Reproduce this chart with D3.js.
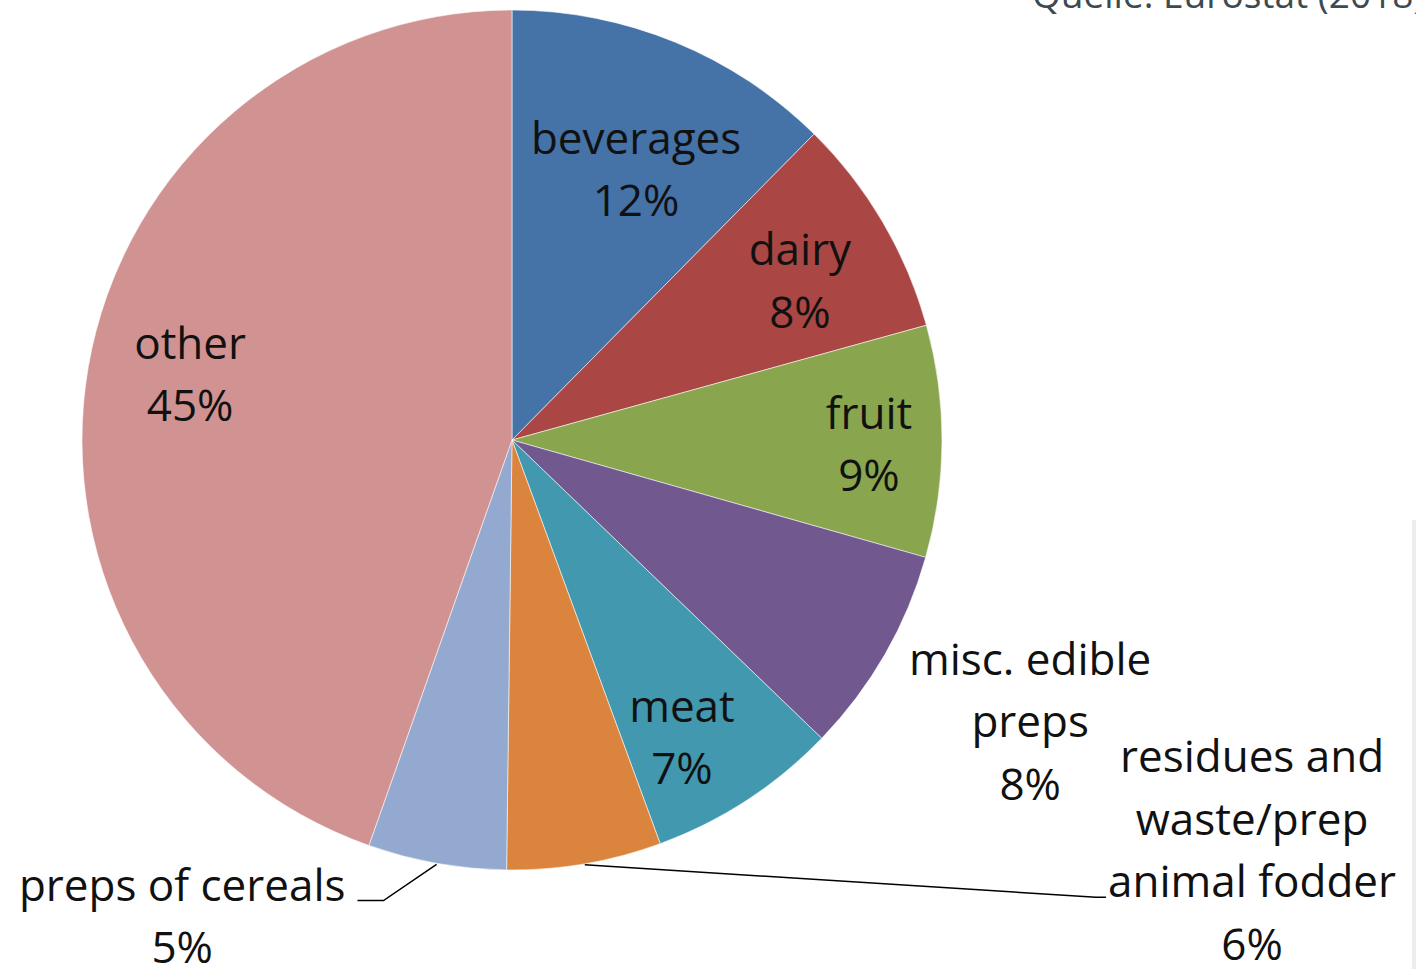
<!DOCTYPE html>
<html>
<head>
<meta charset="utf-8">
<script src="https://cdn.jsdelivr.net/npm/d3@7/dist/d3.min.js"></script>
<style>
  html, body { margin: 0; padding: 0; background: #ffffff; overflow: hidden; }
  svg { display: block; }
</style>
</head>
<body>
<svg id="chart" width="1416" height="969"></svg>
<script>
// ---- data ----
const categories = ["beverages", "dairy", "fruit", "misc. edible preps", "meat",
                    "residues and waste/prep animal fodder", "preps of cereals", "other"];
const labelLines = [
  ["beverages"], ["dairy"], ["fruit"], ["misc. edible", "preps"], ["meat"],
  ["residues and", "waste/prep", "animal fodder"], ["preps of cereals"], ["other"]
];
const shares = [12.4, 8.3, 8.7, 7.8, 7.2, 5.8, 5.2, 44.6];   // percent of total
const colors = ["#4572A7", "#AA4643", "#89A54E", "#71588F", "#4198AF",
                "#DB843D", "#93A9CF", "#D19392"];
const sourceText = "Quelle: Eurostat (2018)";

// ---- layout ----
const W = 1416, H = 969;
const cx = 512, cy = 440, R = 430;
const fontSize = 44, lineH = 62.5;
const fontFamily = "'Open Sans', 'Noto Sans', sans-serif";
// outside-placed labels: anchor relative to centre (in units of R) and leader settings
const outside = {
  3: { ax: 1.205, ay: 0.656, leader: null },
  5: { ax: 1.721, ay: 0.956, leader: { line: 2, side: "left", gap: 2, run: 10 } },
  6: { ax: -0.767, ay: 1.109, leader: { line: 0, side: "right", gap: 12, run: 26 } }
};
// small best-fit nudges for inside labels (px)
const nudge = { 0: [9, 10], 1: [3, 9], 2: [-3, 4], 4: [-10, 22], 7: [12, -8] };

const svg = d3.select("#chart");
const g = svg.append("g").attr("transform", `translate(${cx},${cy})`);

const pie = d3.pie().sort(null).value(d => d.v);
const data = pie(shares.map((v, i) => ({ v, i })));
const arc = d3.arc().innerRadius(0).outerRadius(R);

g.selectAll("path.slice")
  .data(data)
  .join("path")
  .attr("class", "slice")
  .attr("d", arc)
  .attr("fill", d => colors[d.data.i])
  .attr("stroke", "#ffffff")
  .attr("stroke-opacity", 0.55)
  .attr("stroke-width", 1);

function pctText(v) { return Math.round(v) + "%"; }

const labels = g.append("g").attr("font-family", fontFamily)
  .attr("font-size", fontSize).attr("fill", "#111111").attr("text-anchor", "middle");

data.forEach(d => {
  const i = d.data.i;
  const lines = labelLines[i].concat([pctText(d.data.v)]);
  const mid = (d.startAngle + d.endAngle) / 2;
  const dir = [Math.sin(mid), -Math.cos(mid)];
  const t = labels.append("text");
  const n = lines.length;
  lines.forEach((s, k) => {
    t.append("tspan").attr("x", 0)
      .attr("y", (k - (n - 1) / 2) * lineH + 15)
      .text(s);
  });
  const bb = t.node().getBBox();
  let px, py;
  if (outside[i]) {
    px = outside[i].ax * R; py = outside[i].ay * R;
  } else {
    // inside-end: push along mid-angle as far as the box fits inside the circle
    const pad = 22;
    const hw = bb.width / 2, top = bb.y, bot = bb.y + bb.height;
    let lo = 0, hi = R;
    for (let it = 0; it < 40; it++) {
      const m = (lo + hi) / 2;
      const ox = dir[0] * m, oy = dir[1] * m;
      const corners = [[ox - hw, oy + top], [ox + hw, oy + top], [ox - hw, oy + bot], [ox + hw, oy + bot]];
      const ok = corners.every(c => Math.hypot(c[0], c[1]) <= R - pad);
      if (ok) lo = m; else hi = m;
    }
    px = dir[0] * lo; py = dir[1] * lo;
    if (nudge[i]) { px += nudge[i][0]; py += nudge[i][1]; }
  }
  t.attr("transform", `translate(${px},${py})`);

  const ld = outside[i] && outside[i].leader;
  if (ld) {
    const start = [dir[0] * (R + 1), dir[1] * (R + 1)];
    const baseY = py + (ld.line - (n - 1) / 2) * lineH + 15;
    const tw = t.selectAll("tspan").nodes()[ld.line].getComputedTextLength();
    let endX, elbowX;
    if (ld.side === "left") {
      endX = px - tw / 2 - ld.gap; elbowX = endX - ld.run;
    } else {
      endX = px + tw / 2 + ld.gap; elbowX = endX + ld.run;
    }
    g.append("path")
      .attr("d", d3.line()([start, [elbowX, baseY], [endX, baseY]]))
      .attr("fill", "none").attr("stroke", "#000000").attr("stroke-width", 1.5);
  }
});

// faint frame edge at the right
svg.append("rect").attr("x", 1412).attr("y", 520).attr("width", 4).attr("height", H - 520)
  .attr("fill", "#ececec");

// source note (cut by the top-right edge)
svg.append("text")
  .attr("x", 1032).attr("y", 8)
  .attr("font-family", fontFamily).attr("font-size", 37)
  .attr("fill", "#3d4a50")
  .text(sourceText);
</script>
</body>
</html>
